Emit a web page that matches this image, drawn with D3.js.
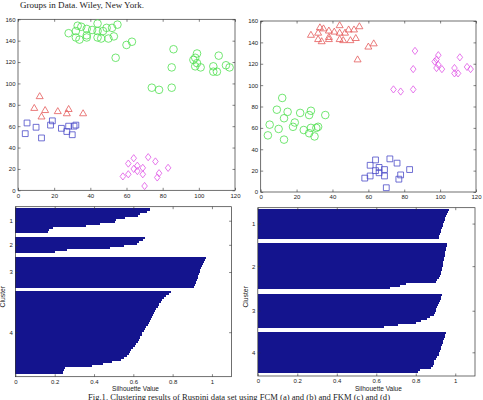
<!DOCTYPE html>
<html><head><meta charset="utf-8">
<script src="https://cdn.jsdelivr.net/npm/d3@7"></script>
<style>
body{margin:0;background:#fff;}
svg{display:block;}
text{font-family:"Liberation Sans",Arial,sans-serif;}
</style>
</head><body><script>
// ---- data: Ruspini points ----
const ruspiniX = [4,5,10,9,13,13,12,15,18,19,22,27,28,24,27,28,30,31,32,36,
  28,32,35,33,38,41,38,38,32,34,44,44,44,46,47,49,50,53,52,55,54,60,63,
  86,85,85,78,74,97,98,98,99,99,101,108,110,108,111,115,117,
  70,77,83,61,69,78,66,58,64,69,66,61,76,72,64];
const ruspiniY = [53,63,59,77,49,69,88,75,61,65,74,72,76,58,55,60,52,60,61,72,
  147,149,153,154,151,150,145,143,143,141,156,149,143,142,149,152,142,144,152,155,124,136,139,
  132,115,96,94,96,122,116,124,119,128,115,111,111,116,126,117,115,
  4,12,21,15,15,16,18,13,20,21,23,25,27,31,30];
// cluster assignments (1=square, 2=triangle, 3=diamond, 4=circle)
const clusterLeft = [1,1,1,2,1,2,2,2,1,1,2,2,2,1,1,1,1,1,1,2,
  4,4,4,4,4,4,4,4,4,4,4,4,4,4,4,4,4,4,4,4,4,4,4,
  4,4,4,4,4,4,4,4,4,4,4,4,4,4,4,4,4,
  3,3,3,3,3,3,3,3,3,3,3,3,3,3,3];
const clusterRight = [4,4,4,4,4,4,4,4,4,4,4,4,4,4,4,4,4,4,4,4,
  2,2,2,2,2,2,2,2,2,2,2,2,2,2,2,2,2,2,2,2,2,2,2,
  3,3,3,3,3,3,3,3,3,3,3,3,3,3,3,3,3,
  1,1,1,1,1,1,1,1,1,1,1,1,1,1,1];
const xTicks = [0,20,40,60,80,100,120];
const yTicks = [0,20,40,60,80,100,120,140,160];
const silTicks = [0,0.2,0.4,0.6,0.8,1];
const clusterLabels = ["1","2","3","4"];
// silhouette values (sorted within cluster)
const silL1 = [0.685,0.67,0.635,0.625,0.56,0.51,0.505,0.43,0.36,0.19,0.17,0.165];
const silL2 = [0.66,0.65,0.63,0.62,0.55,0.48,0.26,0.20];
const silL3 = [0.97,0.965,0.96,0.955,0.95,0.945,0.94,0.94,0.935,0.93,0.93,0.925,0.92,0.915,0.91];
const silL4 = [0.79,0.78,0.767,0.756,0.747,0.739,0.731,0.724,0.716,0.71,0.704,0.70,0.695,0.689,0.684,0.679,0.674,0.667,0.66,0.652,
  0.646,0.643,0.635,0.629,0.622,0.614,0.606,0.597,0.59,0.583,0.576,0.568,0.55,0.536,0.49,0.445,0.39,0.25,0.245,0.24];
const silR1 = [0.97,0.965,0.96,0.955,0.95,0.95,0.945,0.94,0.94,0.935,0.93,0.93,0.925,0.92,0.92];
const silR2 = [0.96,0.96,0.955,0.955,0.95,0.95,0.95,0.945,0.945,0.94,0.94,0.94,0.935,0.935,0.93,0.93,0.925,0.92,0.91,0.90,0.75,0.72,0.67];
const silR3 = [0.935,0.93,0.93,0.925,0.92,0.915,0.91,0.905,0.90,0.895,0.89,0.87,0.855,0.825,0.80,0.71,0.64];
const silR4 = [0.955,0.95,0.95,0.945,0.94,0.94,0.935,0.93,0.93,0.925,0.92,0.92,0.91,0.90,0.89,0.89,0.885,0.875,0.82,0.81];

const headerText = "Groups in Data. Wiley, New York.";
const captionText = "Fig.1. Clustering results of Ruspini data set using FCM (a) and (b) and FKM (c) and (d)";

// ---- styles ----
const markerColor = {1:"#4b4bc8",2:"#e45a5a",3:"#e055e6",4:"#4fe04f"};
const axisColor = "#333";

const svg = d3.select("body").append("svg").attr("width",483).attr("height",400);

svg.append("text").attr("x",20).attr("y",7.6)
  .style("font-family",'"Liberation Serif","Times New Roman",serif')
  .style("font-size","8.8px").attr("fill","#222")
  .attr("textLength",124).attr("lengthAdjust","spacingAndGlyphs")
  .text(headerText);

svg.append("text").attr("x",88).attr("y",399.5)
  .style("font-family",'"Liberation Serif","Times New Roman",serif')
  .style("font-size","8.4px").attr("fill","#222")
  .attr("textLength",302).attr("lengthAdjust","spacingAndGlyphs")
  .text(captionText);

function styleAxis(g){
  g.select(".domain").remove();
  g.selectAll("line").attr("stroke",axisColor).attr("stroke-width",0.6);
  g.selectAll("text").attr("fill","#222").style("font-size","6px").style("font-family",'"Liberation Sans",Arial,sans-serif');
}

function frame(x0,x1,y0,y1){
  svg.append("rect").attr("x",x0).attr("y",y0).attr("width",x1-x0).attr("height",y1-y0)
    .attr("fill","none").attr("stroke",axisColor).attr("stroke-width",0.7);
}

function markerPath(type){
  const p = d3.path();
  if(type===1){ p.rect(-2.9,-2.9,5.8,5.8); }
  else if(type===2){ p.moveTo(0,-3.6); p.lineTo(3.5,2.4); p.lineTo(-3.5,2.4); p.closePath(); }
  else if(type===3){ p.moveTo(0,-3.6); p.lineTo(2.8,0); p.lineTo(0,3.6); p.lineTo(-2.8,0); p.closePath(); }
  else { p.arc(0,0,3.8,0,2*Math.PI); }
  return p.toString();
}

function scatter(x0,x1,y0,y1,clusters){
  const x = d3.scaleLinear().domain([0,120]).range([x0,x1]);
  const y = d3.scaleLinear().domain([0,160]).range([y1,y0]);
  const tk = 2.5;
  styleAxis(svg.append("g").attr("transform",`translate(0,${y1})`)
    .call(d3.axisBottom(x).tickValues(xTicks).tickSizeInner(-tk).tickSizeOuter(0).tickPadding(3.2)));
  styleAxis(svg.append("g").attr("transform",`translate(0,${y0})`)
    .call(d3.axisTop(x).tickValues(xTicks).tickSizeInner(-tk).tickSizeOuter(0).tickFormat("")));
  styleAxis(svg.append("g").attr("transform",`translate(${x0},0)`)
    .call(d3.axisLeft(y).tickValues(yTicks).tickSizeInner(-tk).tickSizeOuter(0).tickPadding(2.5)));
  styleAxis(svg.append("g").attr("transform",`translate(${x1},0)`)
    .call(d3.axisRight(y).tickValues(yTicks).tickSizeInner(-tk).tickSizeOuter(0).tickFormat("")));
  frame(x0,x1,y0,y1);
  svg.append("g").selectAll("path").data(ruspiniX.map((v,i)=>({x:v,y:ruspiniY[i],c:clusters[i]})))
    .join("path")
    .attr("transform",d=>`translate(${x(d.x)},${y(d.y)})`)
    .attr("d",d=>markerPath(d.c))
    .attr("fill","none").attr("stroke",d=>markerColor[d.c]).attr("stroke-width",0.8);
}

function silhouette(x0,x1,y0,y1,groups,lead,gap,trail,labelX){
  const n = d3.sum(groups,g=>g.length);
  const total = lead + n + gap*(groups.length-1) + trail;
  const x = d3.scaleLinear().domain([0,1.1]).range([x0,x1]);
  const y = d3.scaleLinear().domain([0,total]).range([y0,y1]);
  const bars = []; const centers = [];
  let pos = lead;
  groups.forEach((g,ci)=>{
    centers.push(pos + g.length/2);
    g.forEach((v,i)=>bars.push({p:pos+i,v:v}));
    pos += g.length + gap;
  });
  svg.append("g").selectAll("rect").data(bars).join("rect")
    .attr("x",x(0)).attr("y",d=>y(d.p)).attr("width",d=>x(d.v)-x(0))
    .attr("height",d=>y(d.p+1)-y(d.p)+0.15)
    .attr("fill","#14148e").attr("shape-rendering","crispEdges");
  const tk = 2.5;
  styleAxis(svg.append("g").attr("transform",`translate(0,${y1})`)
    .call(d3.axisBottom(x).tickValues(silTicks).tickFormat(d3.format("~g")).tickSizeInner(-tk).tickSizeOuter(0).tickPadding(3.2)));
  styleAxis(svg.append("g").attr("transform",`translate(0,${y0})`)
    .call(d3.axisTop(x).tickValues(silTicks).tickSizeInner(-tk).tickSizeOuter(0).tickFormat("")));
  styleAxis(svg.append("g").attr("transform",`translate(${x0},0)`)
    .call(d3.axisLeft(y).tickValues(centers).tickFormat((d,i)=>clusterLabels[i]).tickSizeInner(-tk).tickSizeOuter(0).tickPadding(2.5)));
  styleAxis(svg.append("g").attr("transform",`translate(${x1},0)`)
    .call(d3.axisRight(y).tickValues(centers).tickSizeInner(-tk).tickSizeOuter(0).tickFormat("")));
  frame(x0,x1,y0,y1);
  svg.append("text").attr("x",(x0+x1)/2 + 12).attr("y",y1+14.5).attr("text-anchor","middle")
    .style("font-size","6.5px").attr("fill","#222").text("Silhouette Value");
  svg.append("text").attr("transform",`translate(${labelX},${(y0+y1)/2+5}) rotate(-90)`)
    .attr("text-anchor","middle").style("font-size","6.8px").attr("fill","#222").text("Cluster");
}

scatter(18,235,19.3,190.3,clusterLeft);
scatter(260.7,476,21,192,clusterRight);
silhouette(15.4,231.6,206.7,376.7,[silL1,silL2,silL3,silL4],0.8,1.7,1.6,4.5);
silhouette(257.8,475,207.7,376,[silR1,silR2,silR3,silR4],0.4,2.2,1.8,248);
</script></body></html>
